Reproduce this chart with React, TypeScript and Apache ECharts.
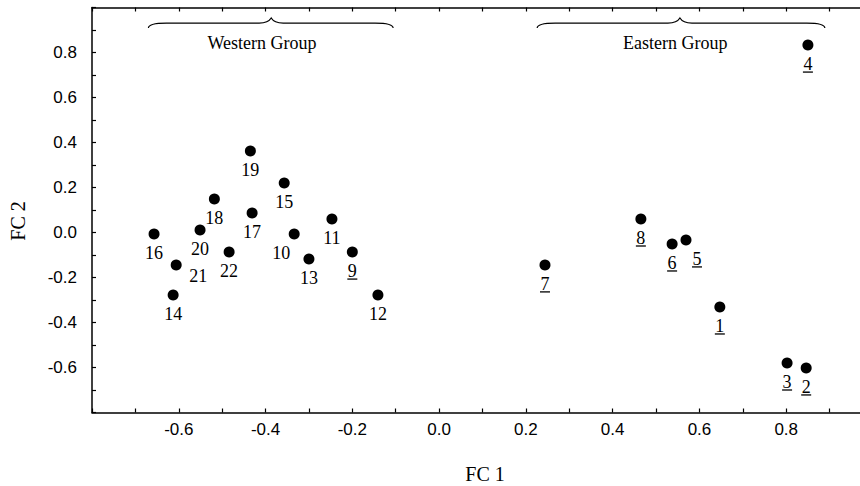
import React, { useEffect, useRef } from "react";
import * as echarts from "echarts";

// Data
const pointIds = ["1", "2", "3", "4", "5", "6", "7", "8", "9", "10", "11", "12", "13", "14", "15", "16", "17", "18", "19", "20", "21", "22"];
const fc1 = [0.647, 0.846, 0.802, 0.85, 0.569, 0.537, 0.244, 0.465, -0.2, -0.334, -0.247, -0.141, -0.3, -0.613, -0.357, -0.657, -0.431, -0.518, -0.435, -0.551, -0.606, -0.484];
const fc2 = [-0.331, -0.602, -0.58, 0.833, -0.033, -0.051, -0.144, 0.06, -0.087, -0.007, 0.06, -0.278, -0.118, -0.278, 0.22, -0.007, 0.087, 0.149, 0.362, 0.011, -0.144, -0.087];
const underlinedIds = ["1", "2", "3", "4", "5", "6", "7", "8", "9"];

const groupNames = ["Western Group", "Eastern Group"];
const groupStart = [-0.67, 0.226];
const groupEnd = [-0.106, 0.889];
const groupMid = [-0.387, 0.555];
const groupLabelX = [-0.408, 0.544];
const braceY = 0.931;
const groupLabelY = 0.842;

const axisMin = -0.8;
const axisMax = 1.0;
const axisInterval = 0.2;

// label placement exceptions (pixel offsets from the point centre)
const labelOffsets: Record<string, [number, number]> = {
  "10": [-13, 19],
  "21": [22, 11],
  "5": [11, 19],
};

const serif = "'Liberation Serif', 'Times New Roman', serif";
const sans = "'Liberation Sans', Arial, sans-serif";

export default function App() {
  const ref = useRef<HTMLDivElement>(null);

  useEffect(() => {
    if (!ref.current) return;
    const chart = echarts.init(ref.current, undefined, { renderer: "svg" });

    const points = pointIds.map((id, i) => ({
      name: id,
      value: [fc1[i], fc2[i]],
      label: { offset: labelOffsets[id] || [0, 19] },
    }));

    const underlines = pointIds
      .map((id, i) => ({ id, i }))
      .filter((d) => underlinedIds.includes(d.id))
      .map(({ id, i }) => {
        const off = labelOffsets[id] || [0, 19];
        return {
          name: id,
          value: [fc1[i], fc2[i]],
          symbolOffset: [off[0], off[1] + 8],
        };
      });

    const braces = groupNames.map((n, i) => ({
      name: n,
      value: [groupStart[i], groupEnd[i], groupMid[i], braceY, groupLabelX[i], groupLabelY],
    }));

    const tickFmt = (v: number) => {
      const r = Math.round(v * 10) / 10;
      return r.toFixed(1);
    };

    const axisCommon = {
      type: "value" as const,
      min: axisMin,
      max: axisMax,
      interval: axisInterval,
      splitLine: { show: false },
      axisLine: { show: true, onZero: false, lineStyle: { color: "#000", width: 1.5 } },
      axisTick: { show: true, inside: true, length: 4, lineStyle: { color: "#000", width: 1.2 } },
      minorTick: { show: true, splitNumber: 2, length: 4, lineStyle: { color: "#000", width: 1.2 } },
      minorSplitLine: { show: false },
    };

    chart.setOption({
      animation: false,
      backgroundColor: "#fff",
      grid: {
        left: 92,
        top: 7.5,
        width: 781,
        height: 405,
        containLabel: false,
        outerBoundsMode: "none",
      },
      xAxis: [
        {
          ...axisCommon,
          position: "bottom",
          axisLabel: {
            show: true,
            margin: 8,
            color: "#000",
            fontFamily: sans,
            fontSize: 17,
            showMinLabel: false,
            showMaxLabel: false,
            formatter: tickFmt,
          },
        },
        {
          ...axisCommon,
          position: "top",
          axisLabel: { show: false },
        },
      ],
      yAxis: [
        {
          ...axisCommon,
          position: "left",
          axisLabel: {
            show: true,
            margin: 15,
            color: "#000",
            fontFamily: sans,
            fontSize: 17,
            showMinLabel: false,
            showMaxLabel: false,
            formatter: tickFmt,
          },
        },
        {
          ...axisCommon,
          position: "right",
          axisLabel: { show: false },
        },
      ],
      graphic: [
        {
          type: "text",
          x: 18,
          y: 221,
          rotation: Math.PI / 2,
          style: {
            text: "FC 2",
            fill: "#000",
            fontFamily: serif,
            fontSize: 20,
            align: "center",
            verticalAlign: "middle",
          },
        },
        {
          type: "text",
          x: 485,
          y: 474,
          style: {
            text: "FC 1",
            fill: "#000",
            fontFamily: serif,
            fontSize: 20,
            align: "center",
            verticalAlign: "middle",
          },
        },
      ],
      series: [
        {
          type: "scatter",
          xAxisIndex: 0,
          yAxisIndex: 0,
          symbol: "circle",
          symbolSize: 11,
          itemStyle: { color: "#000", opacity: 1 },
          data: points,
          label: {
            show: true,
            position: "inside",
            formatter: "{b}",
            color: "#000",
            fontFamily: serif,
            fontSize: 18,
            align: "center",
            verticalAlign: "middle",
          },
          silent: true,
        },
        {
          type: "scatter",
          xAxisIndex: 0,
          yAxisIndex: 0,
          symbol: "rect",
          symbolSize: [10, 1.3],
          itemStyle: { color: "#000", opacity: 1 },
          data: underlines,
          silent: true,
        },
        {
          type: "custom",
          xAxisIndex: 0,
          yAxisIndex: 0,
          coordinateSystem: "cartesian2d",
          clip: false,
          silent: true,
          data: braces,
          renderItem: (params: any, api: any) => {
            const s = api.coord([api.value(0), api.value(3)]);
            const e = api.coord([api.value(1), api.value(3)]);
            const m = api.coord([api.value(2), api.value(3)]);
            const t = api.coord([api.value(4), api.value(5)]);
            const y = s[1];
            const x0 = s[0];
            const x1 = e[0];
            const xm = m[0];
            const d =
              `M ${x0} ${y + 5} Q ${x0} ${y} ${x0 + 18} ${y} ` +
              `L ${xm - 12} ${y} Q ${xm - 3} ${y} ${xm} ${y - 5} ` +
              `Q ${xm + 3} ${y} ${xm + 12} ${y} ` +
              `L ${x1 - 18} ${y} Q ${x1} ${y} ${x1} ${y + 5}`;
            return {
              type: "group",
              children: [
                {
                  type: "path",
                  shape: { pathData: d },
                  style: { fill: "none", stroke: "#000", lineWidth: 1.2 },
                },
                {
                  type: "text",
                  x: t[0],
                  y: t[1],
                  style: {
                    text: groupNames[params.dataIndex],
                    fill: "#000",
                    fontFamily: serif,
                    fontSize: 18,
                    align: "center",
                    verticalAlign: "middle",
                  },
                },
              ],
            };
          },
        },
      ],
    });

    return () => chart.dispose();
  }, []);

  return (
    <div
      ref={ref}
      style={{ position: "fixed", left: 0, top: 0, width: 860, height: 486, background: "#fff" }}
    />
  );
}
